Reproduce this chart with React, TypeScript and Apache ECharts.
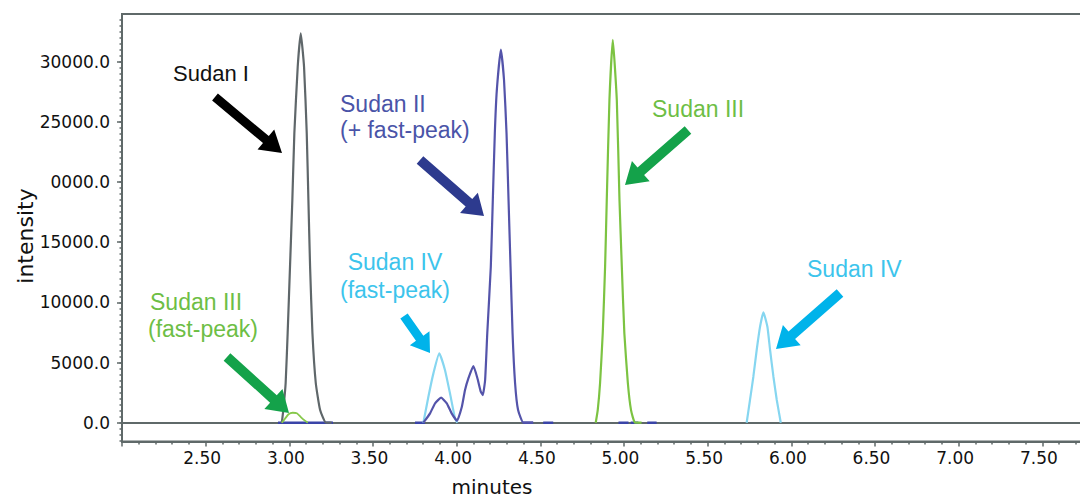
import React, { useEffect, useRef } from "react";
import * as echarts from "echarts";

// ---- data (minutes, intensity) ----
const sudanI: [number, number][] = [
  [2.955, 0], [2.964, 1050], [2.978, 3300], [2.99, 7450], [3.004, 12950], [3.018, 18500],
  [3.03, 24050], [3.05, 29550], [3.068, 32350], [3.088, 29550], [3.104, 24050], [3.114, 18500],
  [3.124, 12950], [3.138, 7450], [3.158, 3300], [3.184, 1050], [3.219, 0], [3.253, 0],
];
const sudanII: [number, number][] = [
  [3.801, 0], [3.841, 780], [3.871, 1610], [3.907, 2080], [3.941, 1610], [3.97, 780], [4.002, 170],
  [4.031, 1330], [4.05, 2720], [4.07, 3690], [4.1, 4700], [4.124, 3690], [4.144, 2580], [4.156, 2300],
  [4.17, 3550], [4.183, 7450], [4.204, 12950], [4.216, 18500], [4.228, 24050], [4.24, 27630],
  [4.264, 31000], [4.283, 28470], [4.298, 24050], [4.31, 18500], [4.322, 12950], [4.334, 7450],
  [4.349, 3300], [4.367, 1050], [4.399, 0], [4.457, 0],
];
const sudanIIBaseline: ([number, number] | [number, null])[] = [
  [2.932, 0], [3.261, 0], [3.262, null],
  [3.751, 0], [3.811, 0], [3.812, null],
  [4.397, 0], [4.457, 0], [4.458, null],
  [4.517, 0], [4.577, 0], [4.578, null],
  [4.967, 0], [5.027, 0], [5.028, null],
  [5.04, 0], [5.086, 0], [5.087, null],
  [5.139, 0], [5.195, 0],
];
const sudanIIIFast: [number, number][] = [
  [2.955, 0], [2.975, 350], [2.995, 700], [3.02, 830], [3.045, 780], [3.07, 450], [3.095, 150], [3.11, 0],
];
const sudanIII: [number, number][] = [
  [4.831, 0], [4.843, 1050], [4.857, 3300], [4.873, 7450], [4.887, 12950], [4.897, 18500],
  [4.913, 26800], [4.933, 31800], [4.957, 26800], [4.973, 18500], [4.987, 12950], [5.002, 7450],
  [5.023, 3300], [5.042, 1050], [5.066, 0], [5.105, 0],
];
const sudanIVFast: [number, number][] = [
  [3.801, 0], [3.831, 2160], [3.861, 4100], [3.896, 5760], [3.93, 4380], [3.96, 2440], [3.99, 370], [4.004, 0],
];
const sudanIV: [number, number][] = [
  [5.733, 0], [5.753, 1890], [5.773, 3820], [5.793, 6040], [5.813, 7970], [5.833, 9170],
  [5.857, 7970], [5.873, 6040], [5.893, 3820], [5.913, 1890], [5.937, 0],
];

// ---- axes ----
const xMin = 2.0;
const xMax = 8.0;
const xInterval = 0.5;
const yMin = -1560;
const yMax = 33950;
const yLabelValues = [0, 5000, 10000, 15000, 20000, 25000, 30000];
const yLabelTexts = ["0.0", "5000.0", "10000.0", "15000.0", "0000.0", "25000.0", "30000.0"];
const yMinorStep = 500;

const AXIS_COLOR = "#5f6969";
const TICK_FONT = "DejaVu Sans";
const ANNOT_FONT = '"Liberation Sans", Arial, sans-serif';

function arrow(tx: number, ty: number, px: number, py: number, w: number, hl: number, hw: number, color: string) {
  const dx = px - tx, dy = py - ty;
  const L = Math.hypot(dx, dy);
  const ux = dx / L, uy = dy / L;
  const nx = -uy, ny = ux;
  const bx = px - ux * hl, by = py - uy * hl;
  const points = [
    [tx + (nx * w) / 2, ty + (ny * w) / 2],
    [bx + (nx * w) / 2, by + (ny * w) / 2],
    [bx + (nx * hw) / 2, by + (ny * hw) / 2],
    [px, py],
    [bx - (nx * hw) / 2, by - (ny * hw) / 2],
    [bx - (nx * w) / 2, by - (ny * w) / 2],
    [tx - (nx * w) / 2, ty - (ny * w) / 2],
  ];
  return { type: "polygon", shape: { points }, style: { fill: color }, z: 100, silent: true };
}

function label(text: string, x: number, y: number, color: string, align = "left", size = 23) {
  return {
    type: "text",
    x,
    y,
    z: 100,
    silent: true,
    style: {
      text,
      fill: color,
      font: `${size}px ${ANNOT_FONT}`,
      align,
      verticalAlign: "middle",
      textAlign: align,
      textVerticalAlign: "middle",
    },
  };
}

export default function App() {
  const ref = useRef<HTMLDivElement>(null);
  useEffect(() => {
    if (!ref.current) return;
    const chart = echarts.init(ref.current, undefined, { renderer: "svg" });
    const minorVals: number[] = [];
    for (let v = Math.ceil(yMin / yMinorStep) * yMinorStep; v <= yMax; v += yMinorStep) minorVals.push(v);

    const lineSeries = (name: string, data: any[], color: string, width = 2) => ({
      name,
      type: "line",
      data,
      showSymbol: false,
      symbol: "none",
      smooth: 0.15,
      connectNulls: false,
      z: 6,
      lineStyle: { color, width },
      itemStyle: { color },
    });

    const option: any = {
      animation: false,
      backgroundColor: "#ffffff",
      grid: {
        left: 122,
        top: 14,
        width: 1004,
        bottom: 58.5,
        containLabel: false,
        outerBoundsMode: "none",
        show: true,
        borderColor: AXIS_COLOR,
        borderWidth: 2,
        backgroundColor: "transparent",
      },
      xAxis: {
        type: "value",
        min: xMin,
        max: xMax,
        interval: xInterval,
        axisLine: { show: true, onZero: false, lineStyle: { color: AXIS_COLOR, width: 2 } },
        axisTick: { show: true, length: 5, lineStyle: { color: AXIS_COLOR, width: 1.5 } },
        minorTick: { show: true, splitNumber: 5, length: 3, lineStyle: { color: AXIS_COLOR, width: 1.5 } },
        splitLine: { show: false },
        minorSplitLine: { show: false },
        axisLabel: {
          show: true,
          margin: 8,
          padding: [0, 7, 0, 0],
          showMinLabel: false,
          showMaxLabel: false,
          color: "#111",
          fontFamily: TICK_FONT,
          fontSize: 17,
          formatter: (v: number) => v.toFixed(2),
        },
      },
      yAxis: [
        {
          type: "value",
          min: yMin,
          max: yMax,
          position: "left",
          axisLine: { show: true, onZero: false, lineStyle: { color: AXIS_COLOR, width: 2 } },
          axisTick: { show: true, length: 5, customValues: yLabelValues, lineStyle: { color: AXIS_COLOR, width: 1.5 } },
          splitLine: { show: false },
          axisLabel: {
            show: true,
            margin: 12,
            customValues: yLabelValues,
            color: "#111",
            fontFamily: TICK_FONT,
            fontSize: 17,
            formatter: (v: number) => {
              const i = yLabelValues.indexOf(Math.round(v));
              return i >= 0 ? yLabelTexts[i] : "";
            },
          },
        },
        {
          type: "value",
          min: yMin,
          max: yMax,
          position: "left",
          axisLine: { show: false },
          axisTick: { show: true, length: 2.5, customValues: minorVals, lineStyle: { color: AXIS_COLOR, width: 1.5 } },
          splitLine: { show: false },
          axisLabel: { show: false },
        },
      ],
      series: [
        {
          name: "zero",
          type: "line",
          data: [],
          z: 2,
          markLine: {
            silent: true,
            z: 2,
            symbol: ["none", "none"],
            label: { show: false },
            lineStyle: { color: AXIS_COLOR, width: 2, type: "solid" },
            data: [{ yAxis: 0 }],
          },
        },
        lineSeries("Sudan II baseline", sudanIIBaseline, "#3a44a8", 2.5),
        lineSeries("Sudan I", sudanI, "#5f676a", 2.2),
        lineSeries("Sudan III (fast-peak)", sudanIIIFast, "#86c84a", 1.8),
        lineSeries("Sudan IV (fast-peak)", sudanIVFast, "#86d6f0", 2.2),
        lineSeries("Sudan II", sudanII, "#5454aa", 2.2),
        lineSeries("Sudan III", sudanIII, "#7cc342", 2.2),
        lineSeries("Sudan IV", sudanIV, "#86d6f0", 2.2),
      ],
      graphic: [
        arrow(215, 97, 282, 153, 9, 21, 26, "#000000"),
        arrow(420, 160, 484, 216, 10, 20, 27, "#2d3a8e"),
        arrow(227, 357, 289, 413, 10, 21, 27, "#14a24a"),
        arrow(404, 316, 430, 353, 9, 18, 24, "#00b3ea"),
        arrow(688, 130, 625, 185, 10, 21, 27, "#14a24a"),
        arrow(840, 293, 776, 349, 10, 21, 27, "#00b3ea"),
        label("Sudan I", 173, 73, "#111111", "left", 22),
        label("Sudan II", 340, 104, "#4a54a8"),
        label("(+ fast-peak)", 340, 130, "#4a54a8"),
        label("Sudan IV", 395, 262, "#3cc4ec", "center"),
        label("(fast-peak)", 395, 290, "#3cc4ec", "center"),
        label("Sudan III", 150, 302, "#6dbe45"),
        label("(fast-peak)", 148, 329, "#6dbe45"),
        label("Sudan III", 652, 109, "#6dbe45"),
        label("Sudan IV", 807, 269, "#3cc4ec"),
        {
          type: "text",
          x: 492,
          y: 487,
          silent: true,
          style: {
            text: "minutes",
            fill: "#111",
            font: `20px "${TICK_FONT}"`,
            align: "center",
            verticalAlign: "middle",
            textAlign: "center",
            textVerticalAlign: "middle",
          },
        },
        {
          type: "text",
          x: 25,
          y: 236,
          rotation: Math.PI / 2,
          silent: true,
          style: {
            text: "intensity",
            fill: "#111",
            font: `22px "${TICK_FONT}"`,
            align: "center",
            verticalAlign: "middle",
            textAlign: "center",
            textVerticalAlign: "middle",
          },
        },
      ],
    };
    chart.setOption(option);
    return () => chart.dispose();
  }, []);
  return <div ref={ref} style={{ position: "fixed", left: 0, top: 0, width: 1080, height: 500 }} />;
}
